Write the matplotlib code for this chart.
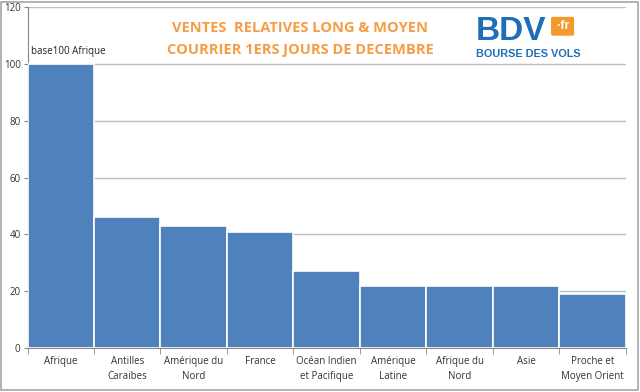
import numpy as np
import matplotlib
matplotlib.use('Agg')
import matplotlib.pyplot as plt
from matplotlib.patches import FancyBboxPatch, Rectangle

categories = ['Afrique', 'Antilles\nCaraibes', 'Amérique du\nNord', 'France',
              'Océan Indien\net Pacifique', 'Amérique\nLatine', 'Afrique du\nNord',
              'Asie', 'Proche et\nMoyen Orient']
values = [100, 46, 43, 41, 27, 22, 22, 22, 19]
y_ticks = [0, 20, 40, 60, 80, 100, 120]

title_lines = 'VENTES  RELATIVES LONG & MOYEN\nCOURRIER 1ERS JOURS DE DECEMBRE'

_BAR_COLOR = '#4F81BD'
_GRID_COLOR = '#BFBFBF'
_TEXT_COLOR = '#333333'
_ORANGE = '#F59D45'
_BLUE = '#1F6EB8'

fig = plt.figure(figsize=(6.4, 3.92), dpi=100)
fig.patches.append(Rectangle((0.002, 0.004), 0.995, 0.992, transform=fig.transFigure,
                             fill=False, edgecolor='#A6A6A6', linewidth=1.2))

ax = fig.add_axes([0.043, 0.112, 0.935, 0.87])
x_pos = np.arange(len(categories))
ax.bar(x_pos, values, width=1.0, color=_BAR_COLOR, edgecolor='white', linewidth=1.2, zorder=3)

ax.set_xlim(-0.5, len(categories) - 0.5)
ax.set_ylim(0, 120)
ax.set_yticks(y_ticks)
ax.set_yticklabels([str(v) for v in y_ticks], fontsize=7, color=_TEXT_COLOR, family='Open Sans')
ax.yaxis.grid(True, color=_GRID_COLOR, linewidth=1.0, zorder=0)
ax.tick_params(axis='y', length=3, color='#888888', pad=2)

ax.set_xticks(x_pos)
ax.set_xticklabels(categories, fontsize=7, color=_TEXT_COLOR, family='Open Sans', linespacing=1.5)
ax.set_xticks(np.arange(len(categories) + 1) - 0.5, minor=True)
ax.tick_params(axis='x', which='major', length=0, pad=6)
ax.tick_params(axis='x', which='minor', length=4, color='#888888')

for side in ['top', 'right']:
    ax.spines[side].set_visible(False)
ax.spines['left'].set_color('#888888')
ax.spines['bottom'].set_color('#888888')

ax.text(-0.45, values[0] + 2.5, 'base100 Afrique', ha='left', va='bottom',
        fontsize=7, color='#222222', family='Open Sans')

# titre
fig.text(0.469, 0.9, title_lines, ha='center', va='center', fontsize=10.5,
         fontweight='bold', color=_ORANGE, family='Open Sans', linespacing=1.7)

# logo BDV.fr
fig.text(0.743, 0.898, 'BDV', ha='left', va='baseline', fontsize=24, fontweight='bold',
         color=_BLUE, family='Liberation Sans')
tag = FancyBboxPatch((0.864, 0.912), 0.03, 0.042, boxstyle='round,pad=0.003',
                     transform=fig.transFigure, facecolor='#F39A2B', edgecolor='none')
fig.patches.append(tag)
fig.text(0.879, 0.933, '·fr', ha='center', va='center', fontsize=9, fontweight='bold',
         color='white', family='Liberation Sans')
fig.text(0.744, 0.862, 'BOURSE DES VOLS', ha='left', va='center', fontsize=7.8,
         fontweight='bold', color=_BLUE, family='Liberation Sans')

fig.savefig('out.png', dpi=100)
